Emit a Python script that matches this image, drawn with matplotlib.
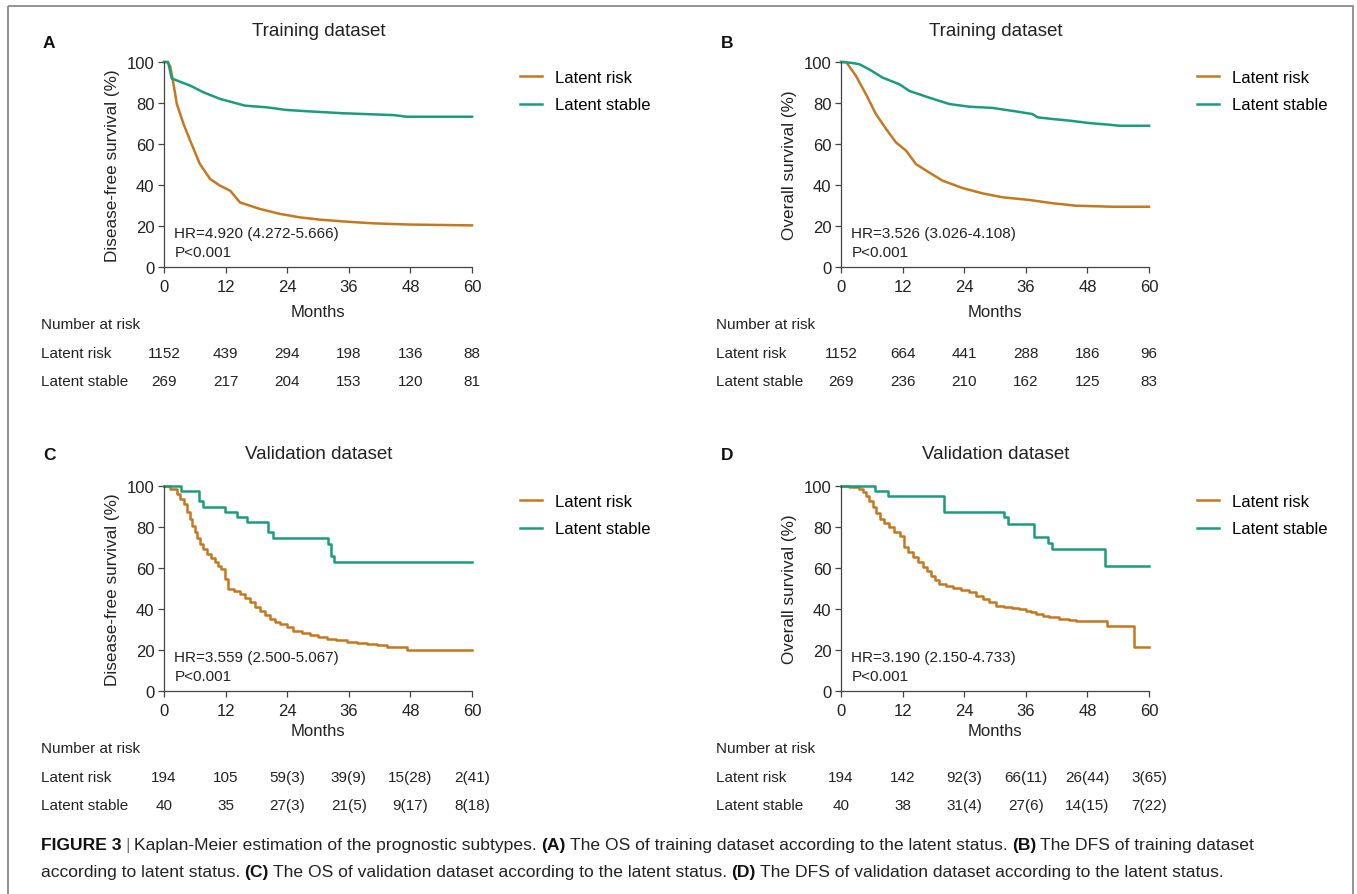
import matplotlib
matplotlib.use("Agg")
import matplotlib.pyplot as plt
import matplotlib.transforms as mtransforms
from matplotlib.patches import Rectangle
from matplotlib.offsetbox import TextArea, HPacker, AnchoredOffsetbox

plt.rcParams['font.family'] = ['Liberation Sans Narrow', 'Liberation Sans', 'DejaVu Sans']

# ---------------- data ----------------
months_ticks = [0, 12, 24, 36, 48, 60]
y_ticks = [0, 20, 40, 60, 80, 100]
group_labels = ["Latent risk", "Latent stable"]

# Panel A: training, disease-free survival
a_risk_t = [0, 0.6, 1.2, 1.8, 2.5, 3.8, 5.1, 7.0, 9.0, 10.9, 12.9, 14.8, 18.7, 22.6, 26.5, 30.4, 35.6, 40.8, 47.9, 60]
a_risk_s = [100, 100, 98, 90, 79.5, 69.8, 61.6, 50.2, 42.9, 39.7, 37.2, 31.5, 28.3, 25.9, 24.2, 23.1, 22.1, 21.3, 20.7, 20.3]
a_stab_t = [0, 0.8, 1.5, 3.0, 5.1, 7.7, 10.9, 15.8, 20.0, 23.9, 28.4, 34.9, 44.7, 47.3, 60]
a_stab_s = [100, 100, 92.0, 90.5, 88.5, 85.2, 82.0, 78.7, 77.9, 76.6, 75.9, 75.0, 74.1, 73.3, 73.3]

# Panel B: training, overall survival
b_risk_t = [0, 1.0, 2.9, 4.9, 6.8, 8.8, 10.7, 12.7, 14.6, 16.6, 19.8, 23.7, 27.6, 31.5, 36.7, 41.2, 45.8, 52.9, 60]
b_risk_s = [100, 100, 93.3, 84.1, 74.6, 67.3, 60.8, 56.7, 50.2, 47.0, 42.1, 38.5, 35.9, 34.0, 32.7, 31.1, 29.9, 29.4, 29.4]
b_stab_t = [0, 2.0, 3.6, 5.5, 8.1, 11.4, 13.3, 17.2, 21.1, 25.0, 29.5, 34.1, 37.3, 38.3, 41.2, 44.5, 48.4, 52.3, 54.2, 60]
b_stab_s = [100, 99.6, 98.9, 96.4, 92.4, 89.1, 85.9, 82.6, 79.5, 78.2, 77.6, 75.9, 74.6, 73.0, 72.2, 71.4, 70.2, 69.4, 68.9, 68.9]

# Panel C: validation, disease-free survival (step curves)
c_risk_t = [0, 1.2, 2.5, 3.2, 3.8, 4.5, 5.1, 5.5, 6.0, 6.5, 7.0, 7.6, 8.3, 9.1, 9.9, 10.5, 11.2, 11.9, 12.5, 13.6, 14.8,
            15.8, 16.8, 17.7, 18.7, 19.6, 20.6, 21.6, 22.6, 23.9, 25.2, 26.8, 28.4, 30.0, 31.7, 33.6, 35.6, 37.5,
            39.5, 41.5, 43.4, 47.3, 60]
c_risk_s = [100, 98.5, 96.1, 93.8, 91.2, 87.5, 83.9, 80.6, 77.4, 74.5, 71.7, 69.2, 66.8, 64.8, 62.8, 61.2, 59.5, 54.6,
            49.8, 48.6, 47.3, 45.3, 43.3, 41.2, 39.2, 37.1, 35.1, 33.9, 32.7, 31.0, 29.4, 28.3, 27.3, 26.3, 25.4,
            24.7, 24.1, 23.5, 22.9, 22.2, 21.6, 19.8, 19.8]
c_stab_t = [0, 3.4, 6.9, 7.5, 11.9, 14.3, 16.2, 20.2, 21.3, 31.9, 32.5, 33.2, 60]
c_stab_s = [100, 97.5, 92.5, 90.0, 87.5, 85.0, 82.3, 77.5, 74.5, 71.6, 66.0, 63.1, 63.1]

# Panel D: validation, overall survival (step curves)
d_risk_t = [0, 1.6, 3.6, 4.3, 4.9, 5.5, 6.2, 6.9, 7.5, 8.4, 9.4, 10.4, 11.4, 12.3, 13.1, 14.0, 15.0, 15.9, 16.7,
            17.5, 18.3, 19.1, 20.4, 21.8, 23.4, 25.0, 26.3, 27.6, 28.9, 30.2, 31.8, 33.4, 34.7, 36.0, 37.0, 38.0,
            39.3, 40.6, 42.5, 44.5, 45.8, 51.9, 57.0, 60]
d_risk_s = [100, 99.3, 98.5, 97.0, 95.3, 92.5, 89.6, 86.8, 83.9, 81.8, 79.8, 77.8, 75.8, 70.1, 67.6, 65.2, 62.8, 60.3,
            58.3, 56.3, 54.2, 52.2, 51.1, 50.1, 49.1, 48.1, 46.5, 44.9, 43.2, 41.6, 41.0, 40.3, 39.8, 39.2, 38.4,
            37.6, 36.8, 35.9, 35.3, 34.8, 34.0, 31.9, 21.3, 21.3]
d_stab_t = [0, 6.7, 9.1, 20.1, 31.8, 32.5, 37.5, 40.3, 41.2, 51.4, 60]
d_stab_s = [100, 97.4, 95.0, 87.2, 84.7, 81.5, 75.0, 72.2, 69.4, 61.1, 61.1]

# Numbers at risk
a_nar_risk = ["1152", "439", "294", "198", "136", "88"]
a_nar_stab = ["269", "217", "204", "153", "120", "81"]
b_nar_risk = ["1152", "664", "441", "288", "186", "96"]
b_nar_stab = ["269", "236", "210", "162", "125", "83"]
c_nar_risk = ["194", "105", "59(3)", "39(9)", "15(28)", "2(41)"]
c_nar_stab = ["40", "35", "27(3)", "21(5)", "9(17)", "8(18)"]
d_nar_risk = ["194", "142", "92(3)", "66(11)", "26(44)", "3(65)"]
d_nar_stab = ["40", "38", "31(4)", "27(6)", "14(15)", "7(22)"]

hr_texts = ["HR=4.920 (4.272-5.666)\nP<0.001", "HR=3.526 (3.026-4.108)\nP<0.001",
            "HR=3.559 (2.500-5.067)\nP<0.001", "HR=3.190 (2.150-4.733)\nP<0.001"]
titles = ["Training dataset", "Training dataset", "Validation dataset", "Validation dataset"]
letters = ["A", "B", "C", "D"]
ylabels = ["Disease-free survival (%)", "Overall survival (%)", "Disease-free survival (%)", "Overall survival (%)"]

# ---------------- styling ----------------
W, H = 1357, 895
ORANGE = "#C4781F"
GREEN = "#1B9C7D"
TXT = "#222222"

fig = plt.figure(figsize=(W / 100, H / 100), dpi=100)
fig.patch.set_facecolor("white")

bg = fig.add_axes([0, 0, 1, 1])
bg.set_xlim(0, W)
bg.set_ylim(H, 0)
bg.axis("off")
bg.add_patch(Rectangle((8, 7), 1345, 900, fill=False, edgecolor="#8a8a8a", linewidth=1.3))


def fx(px):
    return px / W


def fy(py):
    return 1 - py / H


panels = [
    dict(left=164, top=63, risk=(a_risk_t, a_risk_s), stab=(a_stab_t, a_stab_s), step=False,
         nar=(a_nar_risk, a_nar_stab), tabx=41, letter=(49, 44), title_y=32),
    dict(left=841, top=63, risk=(b_risk_t, b_risk_s), stab=(b_stab_t, b_stab_s), step=False,
         nar=(b_nar_risk, b_nar_stab), tabx=716, letter=(727, 44), title_y=32),
    dict(left=164, top=487, risk=(c_risk_t, c_risk_s), stab=(c_stab_t, c_stab_s), step=True,
         nar=(c_nar_risk, c_nar_stab), tabx=41, letter=(49, 456), title_y=455),
    dict(left=841, top=487, risk=(d_risk_t, d_risk_s), stab=(d_stab_t, d_stab_s), step=True,
         nar=(d_nar_risk, d_nar_stab), tabx=716, letter=(727, 456), title_y=455),
]
AW, AH = 308, 205

for i, p in enumerate(panels):
    ax = fig.add_axes([fx(p["left"]), fy(p["top"] + AH), AW / W, AH / H])
    ax.set_xlim(0, 60)
    ax.set_ylim(0, 100)
    for sp in ["top", "right"]:
        ax.spines[sp].set_visible(False)
    for sp in ["left", "bottom"]:
        ax.spines[sp].set_color("#444444")
        ax.spines[sp].set_linewidth(0.9)
    ax.set_xticks(months_ticks)
    ax.set_yticks(y_ticks)
    ax.tick_params(length=4, width=0.9, color="#444444", labelsize=12, labelcolor=TXT, pad=3)
    ax.tick_params(axis="x", pad=5)
    ax.set_xlabel("Months", fontsize=12, color=TXT, labelpad=7 if i < 2 else 3)
    ax.set_ylabel(ylabels[i], fontsize=12.3, color=TXT, labelpad=5)

    if p["step"]:
        l1, = ax.step(p["risk"][0], p["risk"][1], where="post", color=ORANGE, lw=1.8, label=group_labels[0])
        l2, = ax.step(p["stab"][0], p["stab"][1], where="post", color=GREEN, lw=1.8, label=group_labels[1])
    else:
        l1, = ax.plot(p["risk"][0], p["risk"][1], color=ORANGE, lw=1.8, label=group_labels[0])
        l2, = ax.plot(p["stab"][0], p["stab"][1], color=GREEN, lw=1.8, label=group_labels[1])
    for ln in (l1, l2):
        ln.set_clip_on(False)

    ax.text(2, 12.0, hr_texts[i], fontsize=11, color=TXT, va="center", ha="left", linespacing=1.45)

    # title and panel letter
    fig.text(fx(p["left"] + 155), fy(p["title_y"]), titles[i], fontsize=13.5, color=TXT, ha="center", va="center")
    fig.text(fx(p["letter"][0]), fy(p["letter"][1]), letters[i], fontsize=12.5, fontweight="bold",
             color="#111111", ha="center", va="center", family=["Liberation Sans", "DejaVu Sans"])

    # legend
    ax.legend(handles=[l1, l2], loc="upper left", bbox_to_anchor=(fx(p["left"] + 356), fy(p["top"] + 8)),
              bbox_transform=fig.transFigure, frameon=False, fontsize=12, handlelength=1.3,
              handletextpad=0.8, labelspacing=0.75, borderpad=0, borderaxespad=0)

    # number-at-risk table
    trans = mtransforms.blended_transform_factory(ax.transData, fig.transFigure)
    base = p["top"] + AH
    fig.text(fx(p["tabx"]), fy(base + 57), "Number at risk", fontsize=11, color=TXT, ha="left", va="center")
    fig.text(fx(p["tabx"]), fy(base + 86), group_labels[0], fontsize=11, color=TXT, ha="left", va="center")
    fig.text(fx(p["tabx"]), fy(base + 114), group_labels[1], fontsize=11, color=TXT, ha="left", va="center")
    for t, v1, v2 in zip(months_ticks, p["nar"][0], p["nar"][1]):
        ax.text(t, fy(base + 86), v1, transform=trans, fontsize=11, color=TXT, ha="center", va="center")
        ax.text(t, fy(base + 114), v2, transform=trans, fontsize=11, color=TXT, ha="center", va="center")

# ---------------- caption ----------------
CAP = 12.6
bold_kw = dict(fontsize=CAP, fontweight="bold", color="#111111")
reg_kw = dict(fontsize=CAP, color="#222222")
bar_kw = dict(fontsize=CAP, color="#777777")


def caption_line(pieces, ypx):
    kids = []
    for txt, kind in pieces:
        kw = {"b": bold_kw, "r": reg_kw, "g": bar_kw}[kind]
        kids.append(TextArea(txt, textprops=kw))
    box = HPacker(children=kids, align="baseline", pad=0, sep=3.0)
    anc = AnchoredOffsetbox(loc="center left", child=box, pad=0, borderpad=0, frameon=False,
                            bbox_to_anchor=(fx(41), fy(ypx)), bbox_transform=fig.transFigure)
    bg.add_artist(anc)


caption_line([("FIGURE 3", "b"), ("|", "g"), ("Kaplan-Meier estimation of the prognostic subtypes.", "r"),
              ("(A)", "b"), ("The OS of training dataset according to the latent status.", "r"),
              ("(B)", "b"), ("The DFS of training dataset", "r")], 846)
caption_line([("according to latent status.", "r"), ("(C)", "b"),
              ("The OS of validation dataset according to the latent status.", "r"),
              ("(D)", "b"), ("The DFS of validation dataset according to the latent status.", "r")], 873)

fig.savefig("out.png", dpi=100)
